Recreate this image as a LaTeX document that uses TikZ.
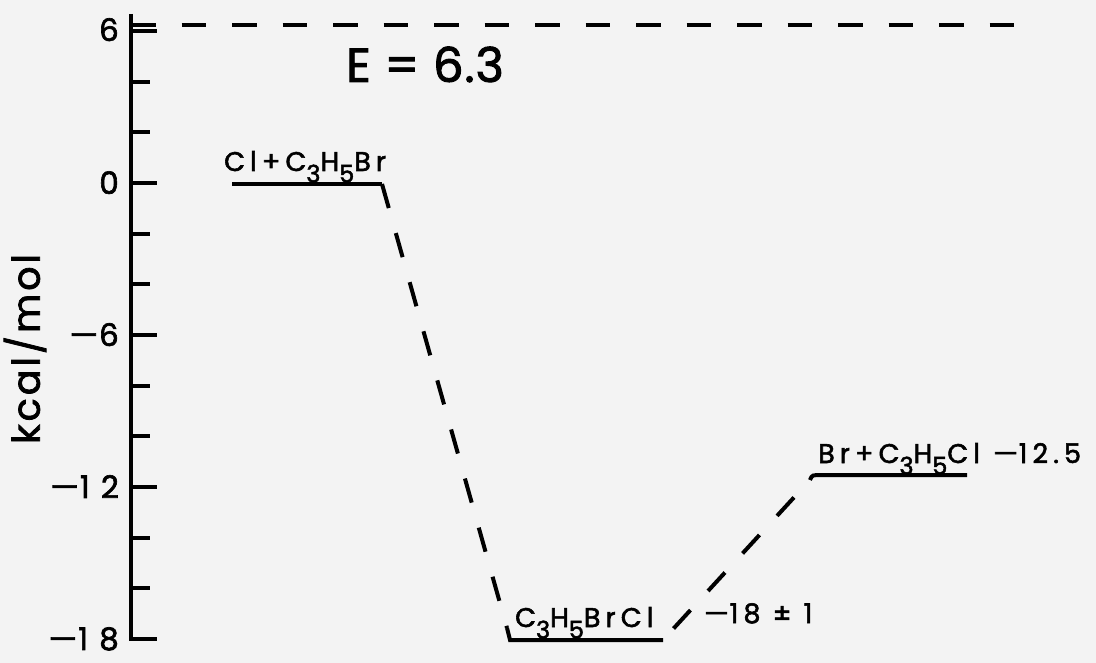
\documentclass[tikz,border=0pt]{standalone}
\usepackage{fontspec}
\setmainfont{Poppins}
\newfontfamily\plotfont{Poppins}[FakeBold=2]
\definecolor{paper}{RGB}{243,243,243}
\newcommand\chsub[1]{\raisebox{-0.42em}{\fontsize{24}{24}\selectfont #1}}
\newcommand\mdash{\scalebox{1.45}[1]{–}}
\tikzset{
  ink/.style={line width=4pt, line cap=butt},
  lvl/.style={ink},
  conn/.style={ink, dash pattern=on 25pt off 26pt},
  tlab/.style={anchor=base east, inner sep=0pt, font=\plotfont\fontsize{31}{31}\selectfont\addfontfeature{LetterSpace=36}},
  spec/.style={anchor=base west, inner sep=0pt, font=\plotfont\fontsize{27}{27}\selectfont\addfontfeature{LetterSpace=19}},
}
\begin{document}
\begin{tikzpicture}[x=1pt,y=-1pt]
\useasboundingbox[fill=paper] (0,0) rectangle (1096,663);

% axis
\coordinate (axtop) at (131,14);
\coordinate (axbot) at (131,639);
\draw[ink] (axtop) -- (axbot) -- ++(26,0);
\foreach \v in {6,0,-6,-12} \draw[ink] (131,{183-25.33*\v}) -- ++(26,0);
\foreach \v in {4,2,-2,-4,-8,-10,-14,-16} \draw[ink] (131,{183-25.33*\v}) -- ++(19,0);

% tick labels
\node[tlab] (t6)   at (119,{183-25.33*6+10}) {6};
\node[tlab] (t0)   at (119,{183+11}) {0};
\node[tlab] (tm6)  at (119,{183+25.33*6+11}) {\mdash 6};
\node[tlab] (tm12) at (119,{183+25.33*12+11}) {\mdash 12};
\node[tlab] (tm18) at (119,{183+25.33*18+11}) {\mdash 18};

% axis title
\node[rotate=90, inner sep=0pt, font=\plotfont\fontsize{38}{38}\selectfont\addfontfeature{LetterSpace=8}] (ytitle) at (25,349) {kcal/mol};

% barrier line E = 6.3
\coordinate (ea) at (131,25);
\coordinate (eb) at (1014,25);
\draw[ink, dash pattern=on 24.5pt off 26pt] (ea) -- (eb);
\node[anchor=base west, inner sep=0pt, font=\plotfont\fontsize{48}{48}\selectfont\addfontfeature{LetterSpace=2}] (elab) at (346,82) {E = 6.3};

% levels
\coordinate (r1a) at (232,184);
\coordinate (r1b) at (382,184);
\draw[lvl] (r1a) -- (r1b);
\node[spec] (l1) at (224,171) {Cl+C\chsub{3}H\chsub{5}Br};

\coordinate (r2h) at (507,628);
\coordinate (r2a) at (510,640);
\coordinate (r2b) at (663,640);
\draw[lvl] (r2h) -- (r2a) -- (r2b);
\node[spec] (l2) at (515,627) {C\chsub{3}H\chsub{5}BrCl};
\node[spec] (v2) at (703,623) {\mdash 18 ± 1};

\coordinate (r3h) at (810,480);
\coordinate (r3a) at (822,475);
\coordinate (r3b) at (967,475);
\draw[lvl] (r3h) .. controls (812,475) .. (r3a) -- (r3b);
\node[spec] (l3) at (818,463) {Br+C\chsub{3}H\chsub{5}Cl \mdash 12.5};

% connectors
\draw[conn] (r1b) -- (r2h);
\draw[conn, dash phase=35.4pt] (r2b) -- (r3h);
\end{tikzpicture}
\end{document}
